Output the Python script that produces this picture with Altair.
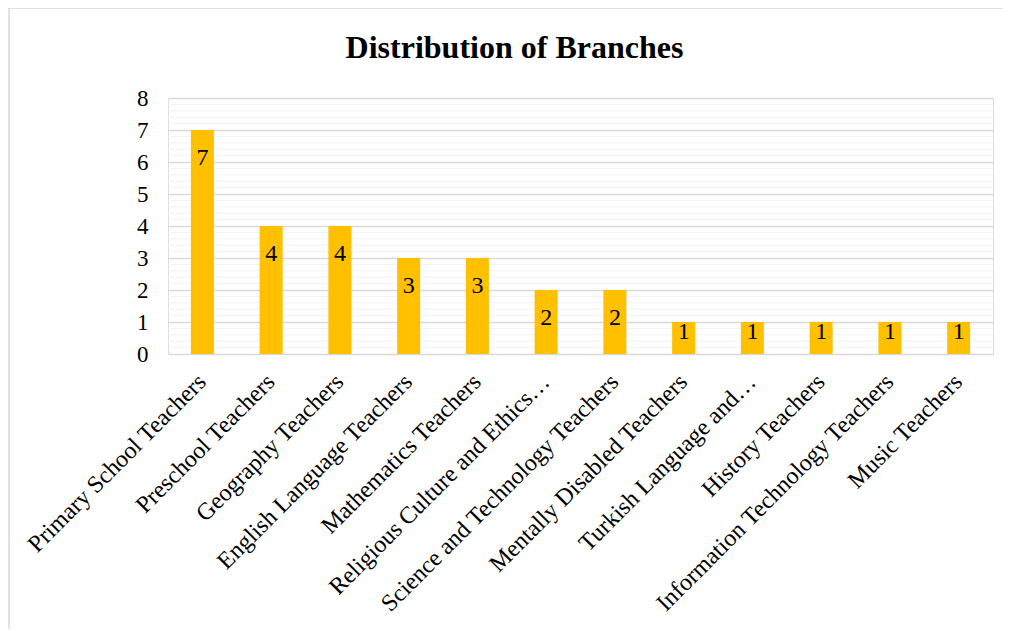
import altair as alt
import pandas as pd

categories = [
    "Primary School Teachers",
    "Preschool Teachers",
    "Geography Teachers",
    "English Language Teachers",
    "Mathematics Teachers",
    "Religious Culture and Ethics…",
    "Science and Technology Teachers",
    "Mentally Disabled Teachers",
    "Turkish Language and…",
    "History Teachers",
    "Information Technology Teachers",
    "Music Teachers",
]
counts = [7, 4, 4, 3, 3, 2, 2, 1, 1, 1, 1, 1]
major_ticks = [0, 1, 2, 3, 4, 5, 6, 7, 8]
minor_ticks = [round(i * 0.2, 1) for i in range(41) if i % 5 != 0]

df = pd.DataFrame({"branch": categories, "count": counts})
minor_df = pd.DataFrame({"v": minor_ticks})

FONT = "Liberation Serif"

x_axis = alt.Axis(
    labelAngle=-45,
    labelFont=FONT,
    labelFontSize=24,
    labelColor="#000000",
    labelPadding=24,
    labelBaseline="middle",
    labelAlign="right",
    labelLimit=0,
    labelOverlap=False,
    ticks=False,
    domain=False,
    grid=False,
)
x_scale = alt.Scale(paddingInner=0, paddingOuter=0)
x_enc = alt.X("branch:N", sort=categories, title=None, scale=x_scale, axis=x_axis)

y_scale = alt.Scale(domain=[0, 8], nice=False)
y_axis = alt.Axis(
    values=major_ticks,
    format="d",
    labelFont=FONT,
    labelFontSize=23,
    labelColor="#000000",
    labelPadding=20,
    labelOverlap=False,
    ticks=False,
    domain=False,
    grid=True,
    gridColor="#d9d9d9",
    gridWidth=1.4,
)

border_df = pd.DataFrame({"b": [0]})
border_left = alt.Chart(border_df).mark_rule(
    color="#d9d9d9", strokeWidth=1.5, clip=False
).encode(x=alt.value(-159), y=alt.value(-90), y2=alt.value(700))
border_top = alt.Chart(border_df).mark_rule(
    color="#d9d9d9", strokeWidth=1.5, clip=False
).encode(x=alt.value(-159), x2=alt.value(860), y=alt.value(-90))

minor = alt.Chart(minor_df).mark_rule(color="#f2f2f2", strokeWidth=1).encode(
    y=alt.Y("v:Q", scale=y_scale, axis=y_axis, title=None)
)

bars = alt.Chart(df).mark_bar(color="#FFC000", size=23).encode(
    x=x_enc, y=alt.Y("count:Q", scale=y_scale, axis=y_axis, title=None)
)

labels = (
    alt.Chart(df)
    .transform_calculate(label_y="max(datum.count - 0.875, 0.69)")
    .mark_text(font=FONT, fontSize=24, color="#000000", baseline="middle")
    .encode(
        x=x_enc,
        y=alt.Y("label_y:Q", scale=y_scale, axis=y_axis, title=None),
        text="count:Q",
    )
)

chart = (
    alt.layer(border_left, border_top, minor, bars, labels)
    .properties(
        width=825,
        height=256,
        title=alt.TitleParams(
            "Distribution of Branches",
            font=FONT,
            fontSize=32,
            fontWeight="bold",
            color="#000000",
            anchor="middle",
            baseline="alphabetic",
            offset=-83,
            dx=-66,
        ),
        autosize=alt.AutoSizeParams(type="none"),
        padding={"left": 160, "top": 90, "right": 10, "bottom": 275},
    )
    .configure_view(stroke="transparent", strokeWidth=0)
    .configure(background="#ffffff")
)

chart.save("out.html", embed_options={"renderer": "svg", "actions": False})
